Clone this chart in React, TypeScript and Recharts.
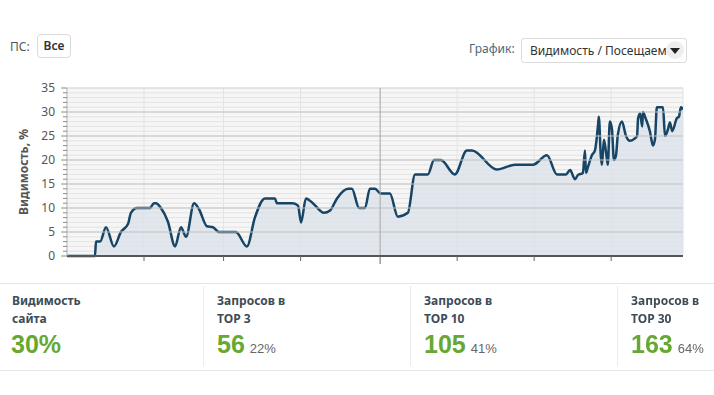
import React from "react";
import { AreaChart, Area, XAxis, YAxis, CartesianGrid, ReferenceLine } from "recharts";

const days = [
  0, 10.9, 11.3, 12.9, 15.2, 18.3, 21.0, 23.8, 24.9, 27.3, 32.3, 33.9, 34.7, 36.6, 39.3, 42.1, 44.4, 46.4,
  49.5, 51.4, 54.5, 56.9, 59.2, 65.8, 70.1, 73.2, 77.1, 81.0, 81.8, 88.0, 90.0, 91.2, 93.1, 95.8, 100.1,
  102.5, 105.2, 109.5, 111.0, 113.8, 116.1, 118.0, 120.0, 122.3, 125.8, 128.9, 132.8, 135.6, 140.6, 143.0,
  145.7, 151.1, 155.8, 157.8, 167.5, 174.5, 181.5, 187.0, 190.9, 194.4, 196.0, 197.9, 199.1, 201.0, 201.8,
  202.2, 203.0, 204.5, 205.7, 206.9, 207.2, 208.0, 208.4, 209.2, 210.0, 210.7, 211.5, 212.3, 213.1, 213.9,
  214.6, 216.2, 217.8, 219.3, 221.0, 222.1, 222.5, 223.3, 224.1, 224.4, 225.2, 227.1, 228.3, 229.1, 229.8,
  232.2, 233.0, 234.1, 234.9, 235.8, 237.6, 238.4, 239.2, 240,
];
const visibility = [
  0, 0, 3, 3, 6, 2, 5, 6.7, 9, 10, 10, 11, 11, 10, 7.2, 2, 6, 4,
  11, 9.8, 6.2, 6, 5, 5, 2, 8, 12, 12, 11, 11, 10.5, 7, 12, 11, 9,
  9.5, 12, 14, 14, 10, 10, 14, 14, 13, 13, 8.2, 9, 17, 17, 20,
  20, 17, 22, 22, 18, 19, 19, 21, 17, 17, 17.9, 16, 16.9, 17.3, 22,
  17.3, 18.6, 21, 22, 27.3, 29, 20.7, 19, 24.2, 21.7, 19, 28, 26.5, 20, 21,
  25.2, 28, 25, 24, 24.4, 25, 28.7, 29.7, 27, 30, 29, 26, 23, 24.4, 31,
  31, 25, 26.3, 27.8, 26, 28.7, 29, 31, 30.5,
];

const xTicks = [30, 61, 91, 122, 152, 182, 212];
const yTicks = Array.from({ length: 36 }, (_, i) => i);
const yMajor = [5, 10, 15, 20, 25, 30];

const stats = [
  { title: ["Видимость", "сайта"], value: "30%", share: "" },
  { title: ["Запросов в", "TOP 3"], value: "56", share: "22%" },
  { title: ["Запросов в", "TOP 10"], value: "105", share: "41%" },
  { title: ["Запросов в", "TOP 30"], value: "163", share: "64%" },
];

const data = days.map((d, i) => ({ day: d, v: visibility[i] }));

const labelFont = "'Noto Sans', 'DejaVu Sans', sans-serif";

const YTick = (props: any) => {
  const { x, y, payload } = props;
  const major = payload.value % 5 === 0;
  return (
    <g>
      <line x1={x} x2={x - (major ? 6 : 4)} y1={y} y2={y} stroke="#8a8a8a" />
      {major && (
        <text x={x - 12} y={y + 4} textAnchor="end" fontSize={12} fill="#555" fontFamily={labelFont}>
          {payload.value}
        </text>
      )}
    </g>
  );
};

const XTick = (props: any) => {
  const { x, y, payload } = props;
  const long = payload.value === 122;
  return <line x1={x} x2={x} y1={y} y2={y + (long ? 8 : 5)} stroke="#666" />;
};

export default function App() {
  return (
    <div style={{ position: "fixed", left: 0, top: 0, width: 714, height: 395, background: "#fff", fontFamily: labelFont }}>
      <div style={{ position: "absolute", left: 10, top: 38, fontSize: 12, color: "#555" }}>ПС:</div>
      <div
        style={{
          position: "absolute", left: 37, top: 34, width: 32, height: 22, border: "1px solid #dadada",
          borderRadius: 4, fontSize: 12, color: "#333", textAlign: "center", lineHeight: "22px", fontWeight: 600,
        }}
      >
        Все
      </div>
      <div style={{ position: "absolute", left: 469, top: 40, fontSize: 12, color: "#4b6878" }}>График:</div>
      <div
        style={{
          position: "absolute", left: 521, top: 38, width: 164, height: 23, border: "1px solid #dcdcdc",
          borderRadius: 3, overflow: "hidden",
        }}
      >
        <div style={{ position: "absolute", left: 8, top: 3, width: 140, overflow: "hidden", whiteSpace: "nowrap", textOverflow: "clip", fontSize: 12, color: "#333" }}>
          Видимость / Посещаемость
        </div>
        <div style={{ position: "absolute", right: 2, top: 2, width: 18, height: 18, borderRadius: 9, background: "#eee" }}>
          <div style={{ position: "absolute", left: 4, top: 7, width: 0, height: 0, borderLeft: "5px solid transparent", borderRight: "5px solid transparent", borderTop: "6px solid #222" }} />
        </div>
      </div>

      <div style={{ position: "absolute", left: 0, top: 80 }}>
        <AreaChart width={714} height={190} data={data} margin={{ top: 8, right: 31, bottom: 0, left: 0 }}>
          <CartesianGrid stroke="#e3e3e3" fill="#f6f6f6" />
          {yMajor.map((v) => (
            <ReferenceLine key={v} y={v} stroke="#c4c4c4" />
          ))}
          <ReferenceLine y={35} stroke="#d8d8d8" />
          <ReferenceLine x={122} stroke="#aaaaaa" />
          <XAxis
            dataKey="day"
            type="number"
            domain={[0, 240]}
            ticks={xTicks}
            tick={<XTick />}
            tickLine={false}
            tickSize={0}
            tickMargin={0}
            axisLine={{ stroke: "#555", strokeWidth: 2 }}
            height={14}
            allowDataOverflow
          />
          <YAxis
            type="number"
            domain={[0, 35]}
            ticks={yTicks}
            interval={0}
            tick={<YTick />}
            tickLine={false}
            tickSize={0}
            tickMargin={0}
            axisLine={{ stroke: "#bbb" }}
            width={67}
            label={{
              value: "Видимость, %", angle: -90, position: "insideLeft", offset: 24,
              style: { fontSize: 12, fontWeight: 700, fill: "#555", fontFamily: labelFont, textAnchor: "middle" },
            }}
          />
          <Area
            type="monotone"
            dataKey="v"
            stroke="#174566"
            strokeWidth={2.5}
            fill="#d9e2ea"
            fillOpacity={0.75}
            isAnimationActive={false}
            dot={false}
            activeDot={false}
          />
        </AreaChart>
      </div>

      <div style={{ position: "absolute", left: 0, top: 283, width: 714, height: 86, borderTop: "1px solid #e6e6e6", borderBottom: "1px solid #e6e6e6" }}>
        {stats.map((s, i) => (
          <div
            key={i}
            style={{
              position: "absolute", left: i === 0 ? 0 : 203 + (i - 1) * 207, top: 2, width: i === 0 ? 203 : 207, height: 80,
              borderLeft: i > 0 ? "1px solid #ececec" : "none",
            }}
          >
            <div style={{ position: "absolute", left: i === 0 ? 12 : 13, top: 6, fontSize: 12, fontWeight: 700, color: "#3e4c56", lineHeight: "18px" }}>
              {s.title[0]}
              <br />
              {s.title[1]}
            </div>
            <div style={{ position: "absolute", left: i === 0 ? 11 : 13, top: 44, whiteSpace: "nowrap", fontFamily: "'Liberation Sans', Arial, sans-serif" }}>
              <span style={{ fontSize: 25, fontWeight: 700, color: "#66a832" }}>{s.value}</span>
              {s.share && <span style={{ fontSize: 13, color: "#666", marginLeft: 5 }}>{s.share}</span>}
            </div>
          </div>
        ))}
      </div>
    </div>
  );
}
